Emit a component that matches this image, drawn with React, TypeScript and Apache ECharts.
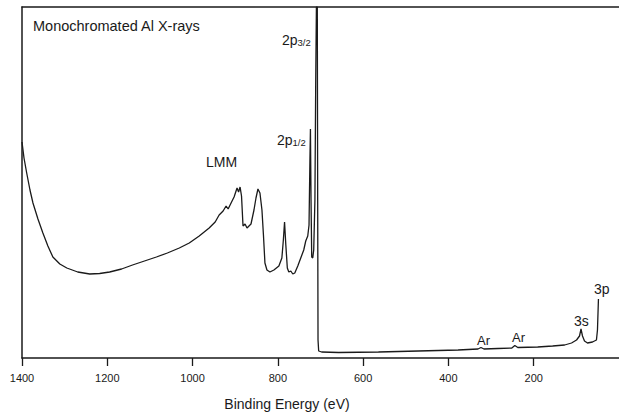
import React, { useEffect, useRef } from "react";
import * as echarts from "echarts";

// Binding energy (eV) and intensity (arbitrary units)
const energy: number[] = [
  1400, 1395.3, 1389, 1381.3, 1374.3, 1362.6, 1351, 1339.3, 1327.6, 1311.3,
  1294.9, 1269.3, 1241.2, 1217.9, 1194.5, 1166.5, 1140.8, 1112.8, 1084.8, 1059.1,
  1031.1, 1007.8, 984.4, 961.1, 947, 937.7, 928.4, 921.4, 916.6, 909.7,
  902.7, 895.7, 892.1, 888.6, 885.2, 881.7, 877, 872.3, 867.7, 863,
  856, 851.3, 846.7, 842, 837.3, 833.8, 830.3, 825.6, 818.6, 809.3,
  797.6, 790.6, 787.1, 784.3, 781.3, 777.8, 774.3, 769.6, 765, 760.3,
  753.3, 746.3, 739.3, 734.6, 729.9, 726.9, 724.8, 723.6, 722.2, 720.6,
  718.2, 715.9, 713.1, 711.2, 709.6, 707.5, 706.6, 705.8, 704.3, 697.3,
  657.5, 564.1, 470.8, 377.4, 330.7, 323.7, 316.7, 283.9, 251.3, 244.3,
  237.3, 190.6, 155.6, 127.6, 111.3, 99.6, 92.6, 89.1, 85.6, 80.9,
  73.9, 62.2, 52.9, 50.5, 48.2,
];
const intensity: number[] = [
  216, 200, 185, 168, 155, 139, 125, 112, 101, 94,
  90, 86, 84, 84.5, 86, 89, 93, 97, 101, 105,
  110, 115, 122, 130, 136, 143, 147, 152, 149, 155,
  161, 170, 166, 171, 162, 132, 134, 130, 132, 134,
  148, 160, 169, 165, 148, 123, 95, 88, 86, 88,
  92, 100, 118, 136, 113, 90, 86, 87, 84, 85,
  92, 100, 108, 117, 122, 133, 198, 229, 158, 101,
  100, 108, 158, 278, 351, 351, 158, 18, 7, 6,
  5.5, 6, 7, 8, 9, 10.5, 9, 9.5, 10, 12.5,
  10.5, 11, 12, 13, 15, 18, 22, 29, 22, 17,
  15, 16, 18, 28, 59,
];

const xTicks = { min: 0, max: 1400, interval: 200 };
const yRange = { min: 0, max: 351 };

const FONT = "'Liberation Sans', Arial, sans-serif";
const INK = "#1a1a1a";

export default function App() {
  const ref = useRef<HTMLDivElement>(null);
  useEffect(() => {
    if (!ref.current) return;
    const chart = echarts.init(ref.current, undefined, { renderer: "svg" });
    const data = energy.map((e, i) => [e, intensity[i]]);
    const sub = (main: string, s: string) => ({
      text: `{a|${main}}{b|${s}}`,
      rich: {
        a: { fontSize: 14, fontFamily: FONT, fill: INK },
        b: { fontSize: 9.5, fontFamily: FONT, fill: INK, padding: [4, 0, 0, 0] },
      },
    });
    const label = (x: number, y: number, text: string, size = 14) => ({
      type: "text",
      x,
      y,
      style: { text, fontSize: size, fontFamily: FONT, fill: INK, textVerticalAlign: "middle" },
    });
    chart.setOption({
      animation: false,
      backgroundColor: "#fff",
      grid: { left: 22, right: -3, top: 7, bottom: 56, containLabel: false },
      xAxis: [
        {
          type: "value",
          inverse: true,
          min: xTicks.min,
          max: xTicks.max,
          interval: xTicks.interval,
          position: "bottom",
          axisLine: { show: true, onZero: false, lineStyle: { color: INK, width: 1.5 } },
          axisTick: { show: true, length: 8, lineStyle: { color: INK, width: 1.3 } },
          axisLabel: {
            show: true,
            margin: 14,
            fontSize: 11,
            fontFamily: FONT,
            color: INK,
            showMinLabel: false,
            formatter: (v: number) => (v === 0 ? "" : String(v)),
          },
          splitLine: { show: false },
        },
        {
          type: "value",
          inverse: true,
          min: xTicks.min,
          max: xTicks.max,
          interval: xTicks.interval,
          position: "top",
          axisLine: { show: true, onZero: false, lineStyle: { color: INK, width: 1.5 } },
          axisTick: { show: false },
          axisLabel: { show: false },
          splitLine: { show: false },
        },
      ],
      yAxis: {
        type: "value",
        min: yRange.min,
        max: yRange.max,
        axisLine: { show: true, onZero: false, lineStyle: { color: INK, width: 1.5 } },
        axisTick: { show: false },
        axisLabel: { show: false },
        splitLine: { show: false },
      },
      series: [
        {
          type: "line",
          xAxisIndex: 0,
          data,
          showSymbol: false,
          symbol: "none",
          smooth: false,
          clip: true,
          lineStyle: { color: INK, width: 1.3 },
        },
      ],
      graphic: [
        label(33, 26, "Monochromated Al X-rays", 14.5),
        { type: "text", x: 282, y: 33, style: sub("2p", "3/2") },
        { type: "text", x: 277, y: 133, style: sub("2p", "1/2") },
        label(206, 162, "LMM"),
        label(477, 340, "Ar", 13),
        label(512, 337, "Ar", 13),
        label(574, 321, "3s"),
        label(594, 289, "3p"),
        {
          type: "text",
          x: 287,
          y: 404,
          style: {
            text: "Binding Energy (eV)",
            fontSize: 14,
            fontFamily: FONT,
            fill: INK,
            textAlign: "center",
            textVerticalAlign: "middle",
          },
        },
      ],
    });
    return () => chart.dispose();
  }, []);
  return (
    <div
      ref={ref}
      style={{ position: "fixed", left: 0, top: 0, width: 619, height: 414, background: "#fff" }}
    />
  );
}
